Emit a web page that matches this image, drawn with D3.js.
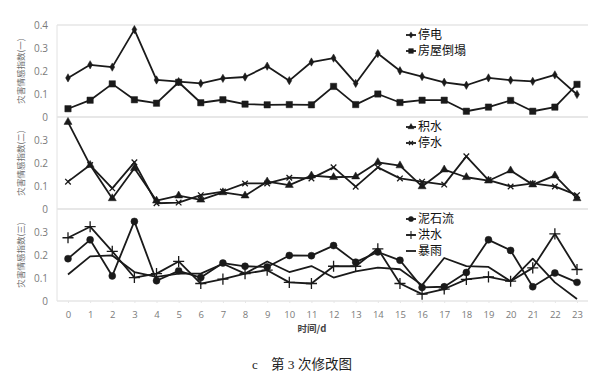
<!DOCTYPE html>
<html>
<head>
<meta charset="utf-8">
<script src="https://cdn.jsdelivr.net/npm/d3@7"></script>
<style>
  body { margin: 0; background: #fff; }
  svg text { font-family: "Noto Sans CJK SC", "Noto Sans", sans-serif; }
</style>
</head>
<body>
<svg id="chart" width="612" height="375"></svg>
<script>
// days on x axis
let days = d3.range(0, 24);
let yTicksTop = [0, 0.1, 0.2, 0.3, 0.4];
let yTicksRest = [0, 0.1, 0.2, 0.3];

// panel 1
let powerOut = [0.17, 0.227, 0.217, 0.38, 0.161, 0.154, 0.146, 0.168, 0.174, 0.221, 0.158, 0.239,
  0.256, 0.146, 0.276, 0.201, 0.176, 0.151, 0.138, 0.17, 0.16, 0.155, 0.183, 0.098];
let houseCollapse = [0.036, 0.073, 0.144, 0.075, 0.06, 0.151, 0.062, 0.075, 0.056, 0.053, 0.054, 0.053,
  0.133, 0.054, 0.1, 0.063, 0.073, 0.073, 0.025, 0.043, 0.072, 0.025, 0.043, 0.142];
// panel 2
let waterlog = [0.378, 0.191, 0.046, 0.177, 0.036, 0.058, 0.04, 0.072, 0.058, 0.119, 0.104, 0.145,
  0.138, 0.141, 0.203, 0.189, 0.098, 0.171, 0.138, 0.123, 0.167, 0.106, 0.145, 0.046];
let waterCut = [0.119, 0.191, 0.09, 0.203, 0.025, 0.028, 0.06, 0.076, 0.111, 0.111, 0.136, 0.133,
  0.181, 0.097, 0.181, 0.133, 0.119, 0.106, 0.229, 0.126, 0.098, 0.111, 0.098, 0.06];
// panel 3
let mudflow = [0.184, 0.266, 0.109, 0.346, 0.088, 0.131, 0.102, 0.165, 0.151, 0.148, 0.198, 0.197,
  0.241, 0.169, 0.213, 0.177, 0.059, 0.062, 0.124, 0.266, 0.22, 0.062, 0.122, 0.081];
let flood = [0.275, 0.323, 0.216, 0.102, 0.119, 0.172, 0.076, 0.095, 0.119, 0.134, 0.081, 0.076,
  0.151, 0.151, 0.227, 0.076, 0.03, 0.052, 0.094, 0.105, 0.086, 0.144, 0.292, 0.137];
let rainstorm = [0.115, 0.194, 0.198, 0.126, 0.105, 0.119, 0.119, 0.162, 0.119, 0.172, 0.126, 0.152,
  0.102, 0.129, 0.145, 0.138, 0.069, 0.187, 0.152, 0.148, 0.086, 0.184, 0.081, 0.009];

let panels = [
  { title: '灾害情感指数(一)', ticks: yTicksTop, series: [
    { name: '停电', values: powerOut, symbol: d3.symbolDiamond, size: 20, fill: true },
    { name: '房屋倒塌', values: houseCollapse, symbol: d3.symbolSquare, size: 40, fill: true }] },
  { title: '灾害情感指数(二)', ticks: yTicksRest, series: [
    { name: '积水', values: waterlog, symbol: d3.symbolTriangle, size: 28, fill: true },
    { name: '停水', values: waterCut, symbol: d3.symbolTimes, size: 22, fill: false }] },
  { title: '灾害情感指数(三)', ticks: yTicksRest, series: [
    { name: '泥石流', values: mudflow, symbol: d3.symbolCircle, size: 38, fill: true },
    { name: '洪水', values: flood, symbol: d3.symbolPlus, size: 42, fill: false },
    { name: '暴雨', values: rainstorm, symbol: null }] }
];

let svg = d3.select('#chart');
let left = 57, right = 588;
let top0 = 25, panelH = 92;
let lineColor = '#1a1a1a';

let x = d3.scaleLinear().domain([0, 23]).range([68, 577]);

// vertical axis line
svg.append('line')
  .attr('x1', left).attr('x2', left)
  .attr('y1', top0).attr('y2', top0 + 3 * panelH)
  .attr('stroke', '#e2e2e2');

panels.forEach(function (p, pi) {
  let py = top0 + pi * panelH;
  let y = d3.scaleLinear().domain([0, 0.4]).range([py + panelH, py]);
  let g = svg.append('g');

  // panel border lines
  g.append('line')
    .attr('x1', left).attr('x2', right)
    .attr('y1', py).attr('y2', py)
    .attr('stroke', '#e6e6e6').attr('stroke-width', 1.5);
  g.append('line')
    .attr('x1', left).attr('x2', right)
    .attr('y1', py + panelH).attr('y2', py + panelH)
    .attr('stroke', '#e6e6e6').attr('stroke-width', 1.5);

  // y ticks
  let yAxis = g.append('g')
    .attr('transform', 'translate(' + left + ',0)')
    .call(d3.axisLeft(y).tickValues(p.ticks).tickSize(0).tickPadding(9)
      .tickFormat(function (d) { return d === 0 ? '0' : d3.format('.1f')(d); }));
  yAxis.select('.domain').remove();
  yAxis.selectAll('text').attr('fill', '#7a7a7a').style('font-size', '10px')
    .style('font-family', '"Open Sans", "DejaVu Sans", sans-serif');

  // y title
  g.append('text')
    .attr('transform', 'translate(22,' + (py + panelH / 2) + ') rotate(-90)')
    .attr('text-anchor', 'middle')
    .attr('dominant-baseline', 'middle')
    .attr('fill', '#6e6e6e')
    .style('font-size', '8.5px')
    .text(p.title);

  // lines and markers
  p.series.forEach(function (s, si) {
    g.append('path')
      .datum(s.values)
      .attr('fill', 'none')
      .attr('stroke', lineColor)
      .attr('stroke-width', 1.8)
      .attr('stroke-linejoin', 'round')
      .attr('d', d3.line()
        .x(function (d, i) { return x(days[i]); })
        .y(function (d) { return y(d); }));

    if (s.symbol) {
      g.selectAll('.m' + pi + si)
        .data(s.values)
        .enter()
        .append('path')
        .attr('transform', function (d, i) { return 'translate(' + x(days[i]) + ',' + y(d) + ')'; })
        .attr('d', d3.symbol().type(s.symbol).size(s.size))
        .attr('fill', s.fill ? lineColor : 'none')
        .attr('stroke', lineColor)
        .attr('stroke-width', s.fill ? 0.5 : 1.3);
    }

    // legend
    let ly = py + 10 + si * 16;
    let lg = g.append('g').attr('transform', 'translate(406,' + ly + ')');
    lg.append('line')
      .attr('x1', 0).attr('x2', 10)
      .attr('stroke', lineColor).attr('stroke-width', 1.8);
    if (s.symbol) {
      lg.append('path')
        .attr('transform', 'translate(5,0)')
        .attr('d', d3.symbol().type(s.symbol).size(s.size * 0.55))
        .attr('fill', s.fill ? lineColor : 'none')
        .attr('stroke', lineColor)
        .attr('stroke-width', s.fill ? 0.5 : 1.1);
    }
    lg.append('text')
      .attr('x', 12)
      .attr('dy', '0.36em')
      .attr('fill', '#111')
      .style('font-size', '12px')
      .text(s.name);
  });
});

// x axis labels
let xAxis = svg.append('g')
  .attr('transform', 'translate(0,' + (top0 + 3 * panelH) + ')')
  .call(d3.axisBottom(x).tickValues(days).tickSize(2).tickPadding(8).tickFormat(d3.format('d')));
xAxis.select('.domain').remove();
xAxis.selectAll('line').attr('stroke', '#e6e6e6');
xAxis.selectAll('text').attr('fill', '#7a7a7a').style('font-size', '9.5px')
  .style('font-family', '"Open Sans", "DejaVu Sans", sans-serif');

svg.append('text')
  .attr('x', 312).attr('y', 332)
  .attr('text-anchor', 'middle')
  .attr('fill', '#444')
  .style('font-size', '9.5px')
  .style('font-weight', 'bold')
  .text('时间/d');

// caption
svg.append('text')
  .attr('x', 252).attr('y', 369)
  .attr('fill', '#222')
  .style('font-size', '13px')
  .style('font-family', '"Liberation Serif", "Noto Sans CJK SC", serif')
  .text('c');
svg.append('text')
  .attr('x', 271).attr('y', 369)
  .attr('fill', '#222')
  .style('font-size', '13.5px')
  .style('font-family', '"Liberation Serif", "Noto Sans CJK SC", serif')
  .text('第 3 次修改图');
</script>
</body>
</html>
